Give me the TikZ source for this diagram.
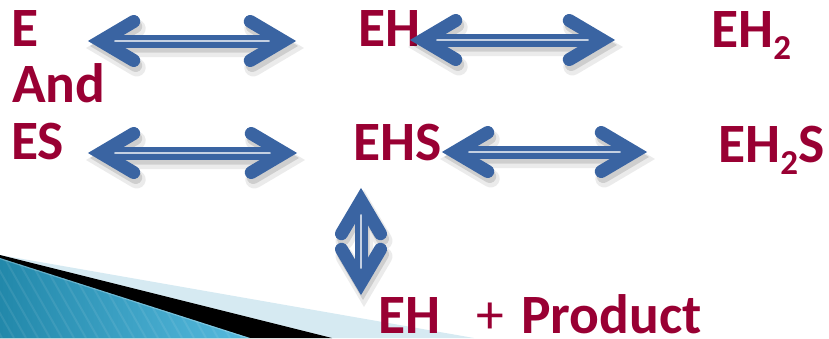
\documentclass[tikz,border=0pt]{standalone}
\usepackage{fontspec}
\setmainfont{Carlito}
\usetikzlibrary{calc}

\definecolor{wine}{RGB}{153,0,51}
\definecolor{arrowblue}{RGB}{58,100,162}
\definecolor{shaftline}{RGB}{196,208,226}
\definecolor{paleblue}{RGB}{214,234,242}
\definecolor{tealdark}{RGB}{34,136,170}
\definecolor{teallight}{RGB}{86,186,222}

\tikzset{
  lbl/.style={font=\fontsize{55.5}{60}\selectfont\bfseries, text=wine,
              inner sep=0pt, anchor=base west},
  shaft/.style={line width=5.5pt, double=shaftline, double distance=2pt},
  barbs/.style={line width=13pt, line cap=round, line join=miter},
  ghost/.style={line width=#1, line cap=round, line join=miter, draw=black},
}

% points of a double-headed arrow between two tip coordinates
\newcommand\arrowgeom[2]{%
  \coordinate (va) at ($(#1)!12.7pt!(#2)$);
  \coordinate (vb) at ($(#2)!12.7pt!(#1)$);
  \coordinate (qa) at ($(#1)!45.7pt!(#2)$);
  \coordinate (qb) at ($(#2)!45.7pt!(#1)$);
  \coordinate (a1) at ($(qa)!19.5pt!90:(#2)$);
  \coordinate (a2) at ($(qa)!19.5pt!-90:(#2)$);
  \coordinate (b1) at ($(qb)!19.5pt!90:(#1)$);
  \coordinate (b2) at ($(qb)!19.5pt!-90:(#1)$);
}
% double-headed arrow with a soft drop shadow
\newcommand\biarrow[2]{%
  \arrowgeom{#1}{#2}%
  \begin{scope}[transform canvas={shift={(3pt,-7pt)}}, transparency group, opacity=.08]
    \draw[ghost=18pt] (va) -- (vb) (a1) -- (va) -- (a2) (b1) -- (vb) -- (b2);
  \end{scope}
  \begin{scope}[transform canvas={shift={(2pt,-5pt)}}, transparency group, opacity=.12]
    \draw[ghost=13pt] (va) -- (vb) (a1) -- (va) -- (a2) (b1) -- (vb) -- (b2);
  \end{scope}
  \draw[shaft, arrowblue] (va) -- (vb);
  \draw[barbs, arrowblue] (a1) -- (va) -- (a2);
  \draw[barbs, arrowblue] (b1) -- (vb) -- (b2);
}

\begin{document}
\begin{tikzpicture}[x=1pt, y=-1pt]
\useasboundingbox (0,0) rectangle (829,338);

% corner decoration: pale band, black stripe, teal wedge
\fill[paleblue] (0,255) -- (474,338) -- (0,338) -- cycle;
\fill[black] (0,255) -- (332,338) -- (0,338) -- cycle;
\shade[left color=tealdark, right color=teallight] (0,258) -- (250,338) -- (0,338) -- cycle;
\begin{scope}
  \clip (0,258) -- (250,338) -- (0,338) -- cycle;
  \foreach \x in {-120,-108,...,260}
    \draw[white, opacity=.08, line width=2pt] (\x,250) -- ({\x+50},338);
  \draw[white, opacity=.25, line width=1.2pt] (0,258.6) -- (250,338.6);
\end{scope}

% species
\node[lbl] (E)    at (11,46)  {E};
\node[lbl] (And)  at (12,102) {And};
\node[lbl] (ES)   at (11,159) {ES};
\node[lbl] (EH)   at (358,46) {EH};
\node[lbl] (EH2)  at (711,47) {EH\raisebox{-12pt}{\fontsize{35}{35}\selectfont 2}};
\node[lbl] (EHS)  at (353,160) {EHS};
\node[lbl] (EH2S) at (718,162) {EH\raisebox{-12pt}{\fontsize{35}{35}\selectfont 2}S};
\node[lbl] (EHp)  at (378,333) {EH};
\node[lbl, font=\fontsize{55.5}{60}\selectfont, anchor=base] (plus) at (490,333) {+};
\node[lbl] (Prod) at (521,333) {Product};

% arrow tips
\coordinate (t1a) at (88,41);   \coordinate (t1b) at (296,41);
\coordinate (t2a) at (410,40);  \coordinate (t2b) at (615,40);
\coordinate (t3a) at (88,153);  \coordinate (t3b) at (297,153);
\coordinate (t4a) at (442,152); \coordinate (t4b) at (647,152);
\coordinate (t5a) at (361,188); \coordinate (t5b) at (361,295);

\biarrow{t1a}{t1b}
\biarrow{t2a}{t2b}
\biarrow{t3a}{t3b}
\biarrow{t4a}{t4b}
\biarrow{t5a}{t5b}
\end{tikzpicture}
\end{document}
